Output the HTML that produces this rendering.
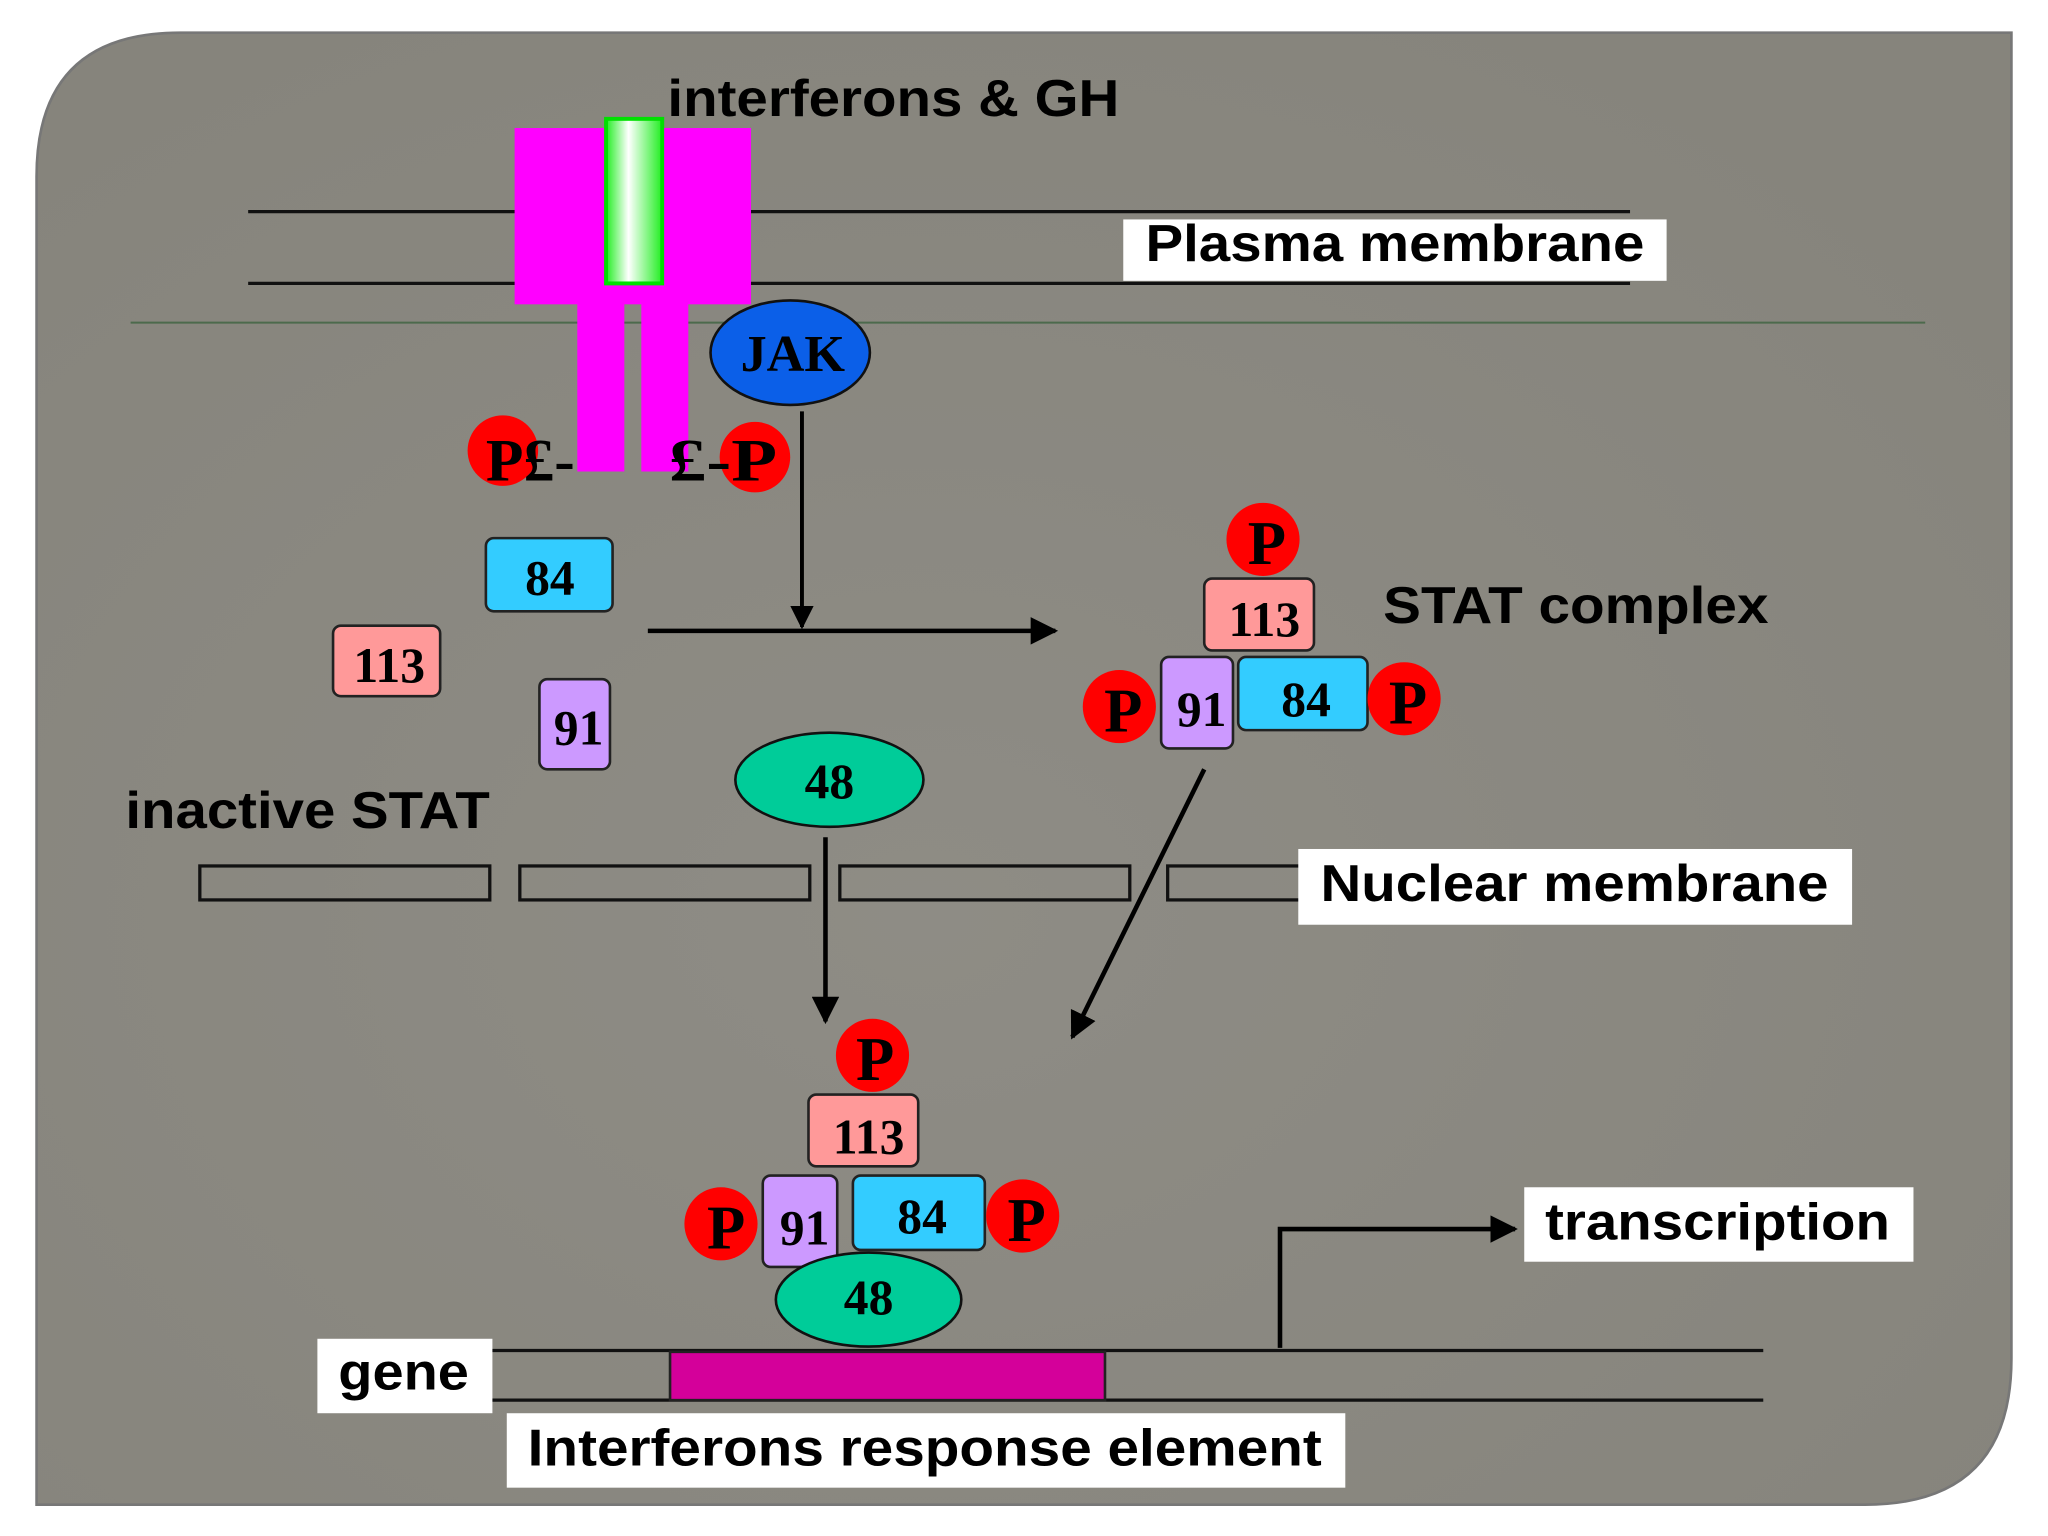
<!DOCTYPE html>
<html><head><meta charset="utf-8"><style>
html,body{margin:0;padding:0;background:#fff;}
svg{display:block;}
.s{font-family:"Liberation Sans",sans-serif;font-weight:bold;fill:#000;}
.n{font-family:"Liberation Serif",serif;font-weight:bold;fill:#000;text-anchor:middle;}
</style></head><body>
<svg width="2048" height="1536" viewBox="0 0 1568 1176" preserveAspectRatio="none" xmlns="http://www.w3.org/2000/svg">
<defs>
<radialGradient id="bg" cx="0.45" cy="0.6" r="0.7"><stop offset="0" stop-color="#8e8c85"/><stop offset="1" stop-color="#86847c"/></radialGradient>
<linearGradient id="gr" x1="0" x2="1" y1="0" y2="0"><stop offset="0" stop-color="#22ee22"/><stop offset="0.4" stop-color="#ffffff"/><stop offset="1" stop-color="#22ee22"/></linearGradient>
<marker id="a" viewBox="0 0 10 10" refX="9" refY="5" markerWidth="6" markerHeight="6" orient="auto"><path d="M0,0 L10,5 L0,10 z" fill="#000"/></marker>
</defs>
<path d="M138,25 H1540 V1040 Q1540,1152 1428,1152 H28 V135 Q28,25 138,25 Z" fill="url(#bg)" stroke="#777" stroke-width="2"/>
<line x1="190" y1="162" x2="1248" y2="162" stroke="#111" stroke-width="2.5"/>
<line x1="190" y1="217" x2="1248" y2="217" stroke="#111" stroke-width="2.5"/>
<line x1="100" y1="247" x2="1474" y2="247" stroke="#4c6a4c" stroke-width="1.5"/>
<rect x="860" y="168" width="416" height="47" fill="#fff"/>
<text x="877" y="200" class="s" font-size="40" textLength="382" lengthAdjust="spacingAndGlyphs">Plasma membrane</text>
<text x="511" y="89" class="s" font-size="40" textLength="346" lengthAdjust="spacingAndGlyphs">interferons &amp; GH</text>
<rect x="394" y="98" width="181" height="135" fill="#ff00ff"/>
<rect x="442" y="220" width="36" height="141" fill="#ff00ff"/>
<rect x="491" y="220" width="36" height="141" fill="#ff00ff"/>
<rect x="464" y="91" width="43" height="126" fill="url(#gr)" stroke="#00e000" stroke-width="3"/>
<ellipse cx="605" cy="270" rx="61" ry="40" fill="#0b5fe8" stroke="#111" stroke-width="2"/>
<text x="607" y="284" class="n" font-size="40">JAK</text>
<circle cx="385" cy="345" r="27" fill="#ff0000"/>
<text x="372" y="368" class="n" font-size="46" style="text-anchor:start" textLength="68" lengthAdjust="spacingAndGlyphs">P£-</text>
<circle cx="578" cy="350" r="27" fill="#ff0000"/>
<text x="512" y="368" class="n" font-size="46" style="text-anchor:start" textLength="83" lengthAdjust="spacingAndGlyphs">£-P</text>
<line x1="614" y1="315" x2="614" y2="480" stroke="#000" stroke-width="3" marker-end="url(#a)"/>
<line x1="496" y1="483" x2="808" y2="483" stroke="#000" stroke-width="3.5" marker-end="url(#a)"/>
<rect x="372" y="412" width="97" height="56" rx="6" fill="#33ccff" stroke="#222" stroke-width="2"/>
<text x="421" y="455" class="n" font-size="38">84</text>
<rect x="255" y="479" width="82" height="54" rx="6" fill="#ff9999" stroke="#222" stroke-width="2"/>
<text x="298" y="522" class="n" font-size="38">113</text>
<rect x="413" y="520" width="54" height="69" rx="6" fill="#cc99ff" stroke="#222" stroke-width="2"/>
<text x="443" y="570" class="n" font-size="38">91</text>
<text x="96" y="634" class="s" font-size="40" textLength="279" lengthAdjust="spacingAndGlyphs">inactive STAT</text>
<ellipse cx="635" cy="597" rx="72" ry="36" fill="#00cc99" stroke="#111" stroke-width="2"/>
<text x="635" y="611" class="n" font-size="38">48</text>
<circle cx="967" cy="413" r="28" fill="#ff0000"/>
<text x="970" y="432" class="n" font-size="48">P</text>
<rect x="922" y="443" width="84" height="55" rx="6" fill="#ff9999" stroke="#222" stroke-width="2"/>
<text x="968" y="487" class="n" font-size="38">113</text>
<circle cx="857" cy="541" r="28" fill="#ff0000"/>
<text x="860" y="560" class="n" font-size="48">P</text>
<rect x="889" y="503" width="55" height="70" rx="6" fill="#cc99ff" stroke="#222" stroke-width="2"/>
<text x="920" y="556" class="n" font-size="38">91</text>
<rect x="948" y="503" width="99" height="56" rx="6" fill="#33ccff" stroke="#222" stroke-width="2"/>
<text x="1000" y="548" class="n" font-size="38">84</text>
<circle cx="1075" cy="535" r="28" fill="#ff0000"/>
<text x="1078" y="554" class="n" font-size="48">P</text>
<text x="1059" y="477" class="s" font-size="40" textLength="295" lengthAdjust="spacingAndGlyphs">STAT complex</text>
<rect x="153" y="663" width="222" height="26" fill="none" stroke="#111" stroke-width="2.5"/>
<rect x="398" y="663" width="222" height="26" fill="none" stroke="#111" stroke-width="2.5"/>
<rect x="643" y="663" width="222" height="26" fill="none" stroke="#111" stroke-width="2.5"/>
<rect x="894" y="663" width="120" height="26" fill="none" stroke="#111" stroke-width="2.5"/>
<rect x="994" y="650" width="424" height="58" fill="#fff"/>
<text x="1011" y="690" class="s" font-size="40" textLength="389" lengthAdjust="spacingAndGlyphs">Nuclear membrane</text>
<line x1="632" y1="641" x2="632" y2="782" stroke="#000" stroke-width="3.5" marker-end="url(#a)"/>
<line x1="922" y1="589" x2="821" y2="794" stroke="#000" stroke-width="3.5" marker-end="url(#a)"/>
<circle cx="668" cy="808" r="28" fill="#ff0000"/>
<text x="670" y="827" class="n" font-size="48">P</text>
<rect x="619" y="838" width="84" height="55" rx="6" fill="#ff9999" stroke="#222" stroke-width="2"/>
<text x="665" y="883" class="n" font-size="38">113</text>
<circle cx="552" cy="937" r="28" fill="#ff0000"/>
<text x="556" y="956" class="n" font-size="48">P</text>
<rect x="584" y="900" width="57" height="70" rx="6" fill="#cc99ff" stroke="#222" stroke-width="2"/>
<text x="616" y="953" class="n" font-size="38">91</text>
<rect x="653" y="900" width="101" height="57" rx="6" fill="#33ccff" stroke="#222" stroke-width="2"/>
<text x="706" y="944" class="n" font-size="38">84</text>
<circle cx="783" cy="931" r="28" fill="#ff0000"/>
<text x="786" y="950" class="n" font-size="48">P</text>
<ellipse cx="665" cy="995" rx="71" ry="36" fill="#00cc99" stroke="#111" stroke-width="2"/>
<text x="665" y="1006" class="n" font-size="38">48</text>
<line x1="375" y1="1034" x2="1350" y2="1034" stroke="#111" stroke-width="2.5"/>
<line x1="375" y1="1072" x2="1350" y2="1072" stroke="#111" stroke-width="2.5"/>
<rect x="513" y="1035" width="333" height="37" fill="#d4009a" stroke="#222" stroke-width="2"/>
<rect x="243" y="1025" width="134" height="57" fill="#fff"/>
<text x="259" y="1064" class="s" font-size="40" textLength="100" lengthAdjust="spacingAndGlyphs">gene</text>
<rect x="388" y="1082" width="642" height="57" fill="#fff"/>
<text x="404" y="1122" class="s" font-size="40" textLength="608" lengthAdjust="spacingAndGlyphs">Interferons response element</text>
<polyline points="980,1032 980,941 1160,941" fill="none" stroke="#000" stroke-width="3.5" marker-end="url(#a)"/>
<rect x="1167" y="909" width="298" height="57" fill="#fff"/>
<text x="1183" y="949" class="s" font-size="40" textLength="264" lengthAdjust="spacingAndGlyphs">transcription</text>
</svg>
</body></html>
